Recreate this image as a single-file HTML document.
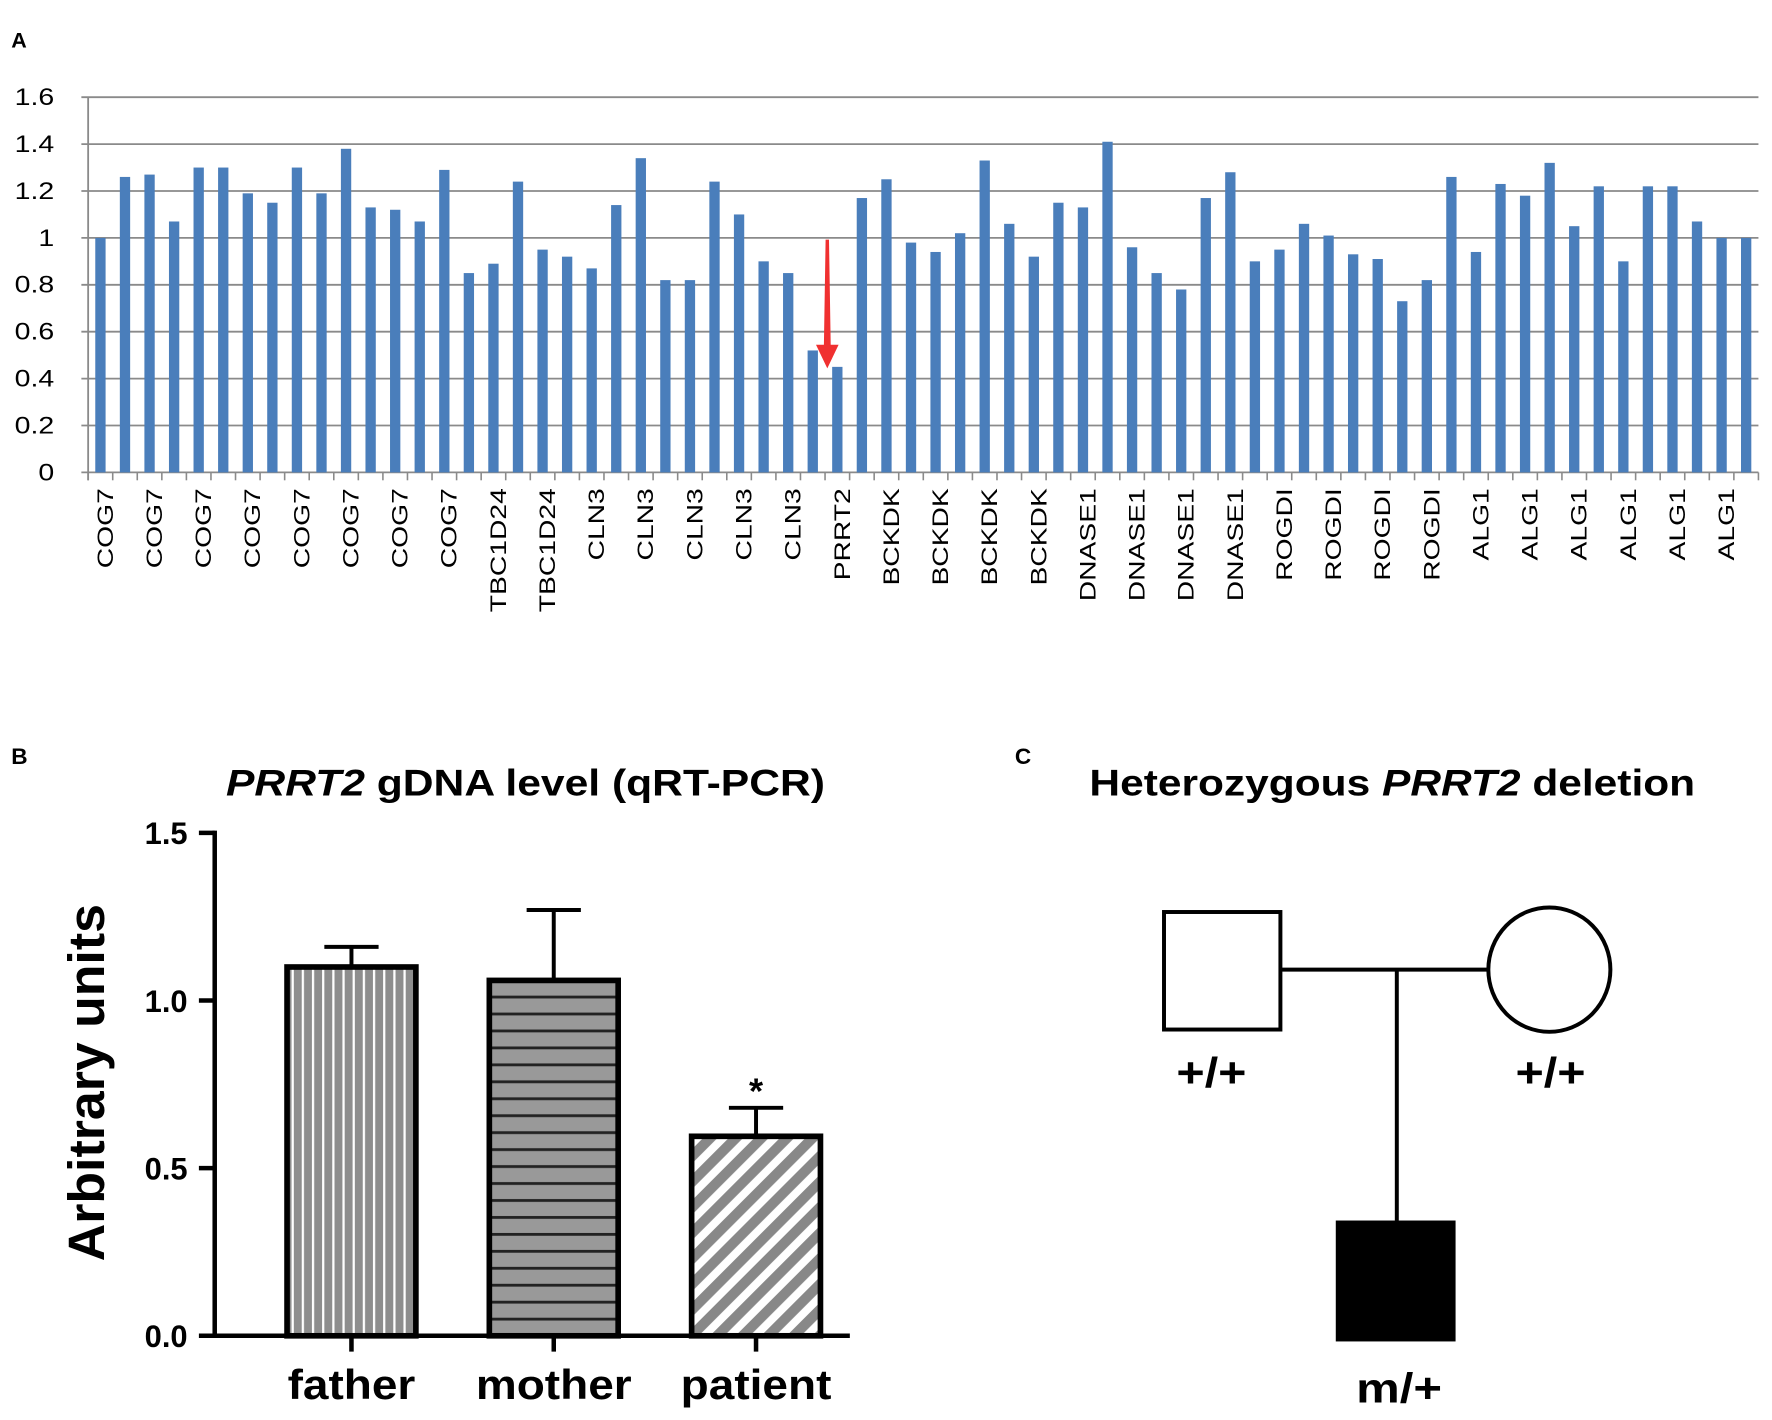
<!DOCTYPE html>
<html><head><meta charset="utf-8"><style>
html,body{margin:0;padding:0;background:#fff}
svg{display:block}
text{font-family:"Liberation Sans",Arial,sans-serif}
</style></head><body>
<svg id="fig" width="1772" height="1420" viewBox="0 0 1568 1256.5" xmlns="http://www.w3.org/2000/svg">
<defs>
<pattern id="pv" width="9" height="10" patternUnits="userSpaceOnUse"><rect width="9" height="10" fill="#8e8e8e"/><rect x="6" width="2" height="10" fill="#fff"/></pattern>
<pattern id="ph" width="10" height="15" patternUnits="userSpaceOnUse"><rect width="10" height="15" fill="#999"/><rect y="11" width="10" height="2.5" fill="#222"/></pattern>
<pattern id="pd" width="16" height="16" patternUnits="userSpaceOnUse" patternTransform="rotate(45)"><rect width="16" height="16" fill="#888"/><rect x="9" width="7" height="16" fill="#fff"/></pattern>
</defs>
<g id="pa"></g>
<g id="pb"></g>
<g id="pc"></g>
</svg>
<script>
const genes = ["COG7","COG7","COG7","COG7","COG7","COG7","COG7","COG7","TBC1D24","TBC1D24","CLN3","CLN3","CLN3","CLN3","CLN3","PRRT2","BCKDK","BCKDK","BCKDK","BCKDK","DNASE1","DNASE1","DNASE1","DNASE1","ROGDI","ROGDI","ROGDI","ROGDI","ALG1","ALG1","ALG1","ALG1","ALG1","ALG1"];
const ratios = [1.00,1.26,1.27,1.07,1.30,1.30,1.19,1.15,1.30,1.19,1.38,1.13,1.12,1.07,1.29,0.85,0.89,1.24,0.95,0.92,0.87,1.14,1.34,0.82,0.82,1.24,1.10,0.90,0.85,0.52,0.45,1.17,1.25,0.98,0.94,1.02,1.33,1.06,0.92,1.15,1.13,1.41,0.96,0.85,0.78,1.17,1.28,0.90,0.95,1.06,1.01,0.93,0.91,0.73,0.82,1.26,0.94,1.23,1.18,1.32,1.05,1.22,0.90,1.22,1.22,1.07,1.00,1.00];
const yTicksA = ["0","0.2","0.4","0.6","0.8","1","1.2","1.4","1.6"];
const groupsB = ["father","mother","patient"];
const meansB = [1.10,1.06,0.595];
const errB = [0.06,0.21,0.085];
const yTicksB = ["0.0","0.5","1.0","1.5"];

const NS="http://www.w3.org/2000/svg";
function mk(parent,tag,attrs,txt){const e=document.createElementNS(NS,tag);for(const k in attrs)e.setAttribute(k,attrs[k]);if(txt!==undefined)e.textContent=txt;parent.appendChild(e);return e;}
function stretch(el,f){const L=el.getComputedTextLength();el.setAttribute('textLength',L*f);el.setAttribute('lengthAdjust','spacingAndGlyphs');}

// Panel A
const pa=document.getElementById('pa');
const ax0=78, ax1=1556, ay0=418, ay1=86;
const yA=v=>ay0-(v/1.6)*(ay0-ay1);
const catW=(ax1-ax0)/ratios.length;
const xA=i=>ax0+catW*(i+0.5);
let t=mk(pa,'text',{x:10,y:42,'font-size':19,'font-weight':'bold'},'A');


yTicksA.forEach(s=>{
  const v=parseFloat(s);
  const g=mk(pa,'line',{x1:ax0-6,x2:ax1,y1:yA(v),y2:yA(v),stroke:'#8a8a8a','stroke-width':1.6});
  
  
  const l=mk(pa,'text',{x:48,y:yA(v)+7,'font-size':21,'text-anchor':'end'},s);
  
  
  stretch(l,1.2);
});
let yl=mk(pa,'line',{x1:ax0,x2:ax0,y1:ay1,y2:ay0+7,stroke:'#8a8a8a','stroke-width':1.6});


const bw=catW*0.42;
ratios.forEach((v,i)=>{
  const r=mk(pa,'rect',{x:xA(i)-bw/2,y:yA(v),width:bw,height:yA(0)-yA(v),fill:'#4a7ebb'});
  
  
});
for(let i=0;i<=ratios.length;i++){
  const x=ax0+catW*i;
  const tk=mk(pa,'line',{x1:x,x2:x,y1:ay0,y2:ay0+7,stroke:'#8a8a8a','stroke-width':1.4});
  
  
}
genes.forEach((g,j)=>{
  const x=xA(j*2)+5;
  const l=mk(pa,'text',{x:x+6,y:ay0+14,'font-size':20,'text-anchor':'end',transform:`rotate(-90 ${x+6} ${ay0+14})`},g);
  
  
  stretch(l,1.25);
});
const pi=genes.indexOf('PRRT2')*2;
const axx=(xA(pi-1)+xA(pi))/2+2;
let ar=mk(pa,'path',{d:`M${axx-1.5} 212 L${axx+1.5} 212 L${axx+3} 305 L${axx+10} 305 L${axx} 326 L${axx-10} 305 L${axx-3} 305 Z`,fill:'#f03030'});



// Panel B
const pb=document.getElementById('pb');
const bx0=190, by0=1182, by1=737;
const yB=v=>by0-(v/1.5)*(by0-by1);
t=mk(pb,'text',{x:10,y:676,'font-size':20,'font-weight':'bold'},'B');


t=mk(pb,'text',{x:465,y:704,'font-size':33,'font-weight':'bold','text-anchor':'middle','textLength':530,'lengthAdjust':'spacingAndGlyphs'});


mk(t,'tspan',{'font-style':'italic'},'PRRT2');mk(t,'tspan',{},' gDNA level (qRT-PCR)');
t=mk(pb,'text',{x:0,y:0,'font-size':45,'font-weight':'bold','text-anchor':'middle',transform:'translate(92 958) rotate(-90)','textLength':316,'lengthAdjust':'spacingAndGlyphs'},'Arbitrary units');


let l=mk(pb,'line',{x1:bx0,x2:bx0,y1:by1-2,y2:by0+2,stroke:'#000','stroke-width':4});


l=mk(pb,'line',{x1:bx0-2,x2:752,y1:by0,y2:by0,stroke:'#000','stroke-width':4});


yTicksB.forEach(s=>{
  const v=parseFloat(s);
  const k=mk(pb,'line',{x1:bx0-14,x2:bx0,y1:yB(v),y2:yB(v),stroke:'#000','stroke-width':4});
  
  
  const tl=mk(pb,'text',{x:166,y:yB(v)+10,'font-size':28,'font-weight':'bold','text-anchor':'end','textLength':38,'lengthAdjust':'spacingAndGlyphs'},s);
  
  
});
const fills=['url(#pv)','url(#ph)','url(#pd)'];
const step=179, cx0=311, bwB=114;
groupsB.forEach((g,i)=>{
  const cx=cx0+step*i;
  const e=mk(pb,'path',{d:`M${cx-24} ${yB(meansB[i]+errB[i])} H${cx+24} M${cx} ${yB(meansB[i]+errB[i])} V${yB(meansB[i])}`,stroke:'#000','stroke-width':3.5,fill:'none'});
  
  
  const r=mk(pb,'rect',{x:cx-bwB/2,y:yB(meansB[i]),width:bwB,height:yB(0)-yB(meansB[i]),fill:fills[i],stroke:'#000','stroke-width':5});
  
  
  const k=mk(pb,'line',{x1:cx,x2:cx,y1:by0,y2:by0+14,stroke:'#000','stroke-width':4});
  
  
  const tl=mk(pb,'text',{x:cx,y:1238,'font-size':37,'font-weight':'bold','text-anchor':'middle'},g);
  
  
  stretch(tl,1.1);
});
t=mk(pb,'text',{x:cx0+step*2,y:yB(meansB[2]+errB[2])-4,'font-size':32,'font-weight':'bold','text-anchor':'middle'},'*');



// Panel C pedigree
const pc=document.getElementById('pc');
t=mk(pc,'text',{x:898,y:676,'font-size':20,'font-weight':'bold'},'C');


t=mk(pc,'text',{x:1232,y:704,'font-size':33,'font-weight':'bold','text-anchor':'middle','textLength':536,'lengthAdjust':'spacingAndGlyphs'});


mk(t,'tspan',{},'Heterozygous ');mk(t,'tspan',{'font-style':'italic'},'PRRT2');mk(t,'tspan',{},' deletion');
l=mk(pc,'path',{d:'M1133 858 H1317 M1236 858 V1080',stroke:'#000','stroke-width':3.5,fill:'none'});


let s=mk(pc,'rect',{x:1030,y:807,width:103,height:104,fill:'#fff',stroke:'#000','stroke-width':3.5});


s=mk(pc,'ellipse',{cx:1371,cy:858,rx:54,ry:55,fill:'#fff',stroke:'#000','stroke-width':3.5});


s=mk(pc,'rect',{x:1182,y:1080,width:106,height:107,fill:'#000'});


[[1072,962,'+/+','father-genotype',62],[1372,962,'+/+','mother-genotype',62],[1238,1241,'m/+','patient-genotype',76]].forEach(a=>{
  const g=mk(pc,'text',{x:a[0],y:a[1],'font-size':37,'font-weight':'bold','text-anchor':'middle','textLength':a[4],'lengthAdjust':'spacingAndGlyphs'},a[2]);
  
  
});
</script>
</body></html>
